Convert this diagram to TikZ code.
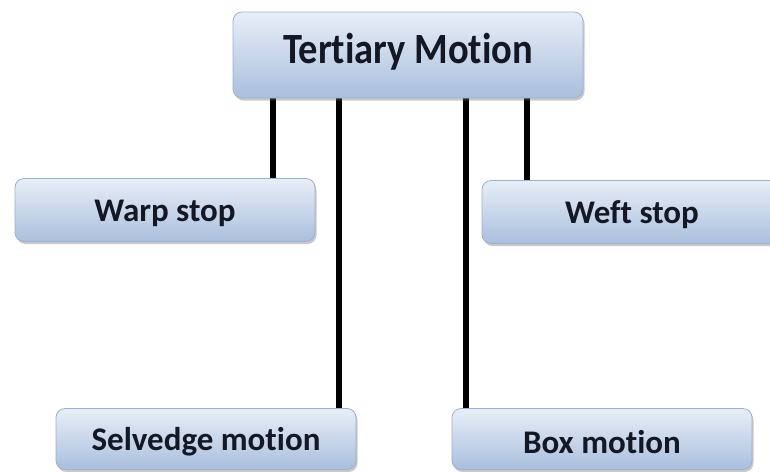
\documentclass[tikz,border=0pt]{standalone}
\usepackage{fontspec}
\setmainfont[Ligatures={NoCommon,NoRare}]{Carlito}
\usetikzlibrary{shadows}
\definecolor{boxtop}{HTML}{E8EEF7}
\definecolor{boxbot}{HTML}{A9BFDD}
\definecolor{boxline}{HTML}{9DB1CE}
\definecolor{txt}{HTML}{141724}
\tikzset{
  box/.style={draw=boxline, line width=0.8pt, rounded corners=9pt,
    top color=boxtop, bottom color=boxbot,
    drop shadow={shadow xshift=1.5pt, shadow yshift=-2.5pt, opacity=0.35, fill=black!60},
    text=txt, font=\bfseries, inner sep=0pt},
  small/.style={box, minimum width=300pt, minimum height=63pt},
  link/.style={line width=6pt, black}
}
% label text, shifted vertically without changing the node's size
\newcommand{\bigtxt}[1]{\raisebox{3pt}[\height][\depth]{\scalebox{1}[1.12]{\fontsize{38.5}{42}\selectfont\bfseries #1}}}
\newcommand{\smalltxt}[1]{\raisebox{-3pt}[\height][\depth]{\fontsize{33}{36}\selectfont\bfseries #1}}
\begin{document}
\begin{tikzpicture}[x=1pt,y=-1pt]
  \useasboundingbox (0,0) rectangle (770,471);
  \clip (0,0) rectangle (770,471);
  \fill[white] (0,0) rectangle (770,471);

  % connectors first, so the boxes sit on top of their ends
  \coordinate (s1) at (273,97);
  \coordinate (s2) at (339,97);
  \coordinate (s3) at (466,97);
  \coordinate (s4) at (527,97);
  \coordinate (e1) at (273,180);
  \coordinate (e2) at (339,410);
  \coordinate (e3) at (466,410);
  \coordinate (e4) at (527,182);
  \draw[link] (s1) -- (e1);
  \draw[link] (s2) -- (e2);
  \draw[link] (s3) -- (e3);
  \draw[link] (s4) -- (e4);

  % boxes
  \node[box, minimum width=350pt, minimum height=86pt]
    (top) at (408,55) {\bigtxt{Tertiary Motion}};
  \node[small] (warp) at (165,210) {\smalltxt{Warp stop}};
  \node[small] (weft) at (632,212) {\smalltxt{Weft stop}};
  \node[small, minimum height=61pt] (selv) at (206,439) {\smalltxt{Selvedge motion}};
  \node[small, minimum height=61pt] (boxm) at (602,439) {\smalltxt{Box motion}};
\end{tikzpicture}
\end{document}
